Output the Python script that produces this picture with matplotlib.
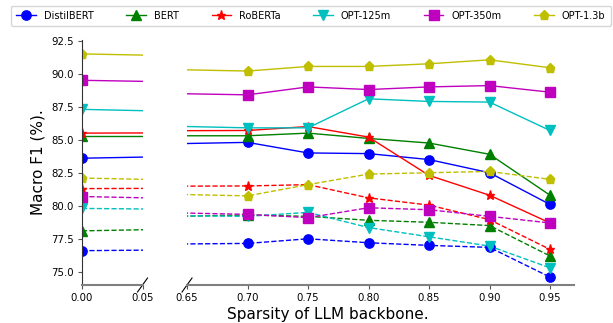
import numpy as np
import matplotlib
matplotlib.use("Agg")
import matplotlib.pyplot as plt

sparsity = [0.0, 0.70, 0.75, 0.80, 0.85, 0.90, 0.95]
models = ["DistilBERT", "BERT", "RoBERTa", "OPT-125m", "OPT-350m", "OPT-1.3b"]

# solid lines
distilbert_solid = [83.6, 84.8, 84.0, 83.95, 83.5, 82.5, 80.1]
bert_solid = [85.3, 85.3, 85.5, 85.1, 84.75, 83.9, 80.8]
roberta_solid = [85.5, 85.7, 86.0, 85.2, 82.3, 80.8, 78.7]
opt125_solid = [87.3, 85.9, 85.9, 88.1, 87.9, 87.85, 85.7]
opt350_solid = [89.5, 88.4, 89.0, 88.8, 89.0, 89.1, 88.6]
opt13_solid = [91.5, 90.2, 90.55, 90.55, 90.75, 91.05, 90.45]

# dashed lines
distilbert_dashed = [76.6, 77.15, 77.5, 77.2, 77.0, 76.85, 74.6]
bert_dashed = [78.1, 79.3, 79.2, 78.9, 78.75, 78.5, 76.2]
roberta_dashed = [81.3, 81.5, 81.6, 80.6, 80.05, 78.95, 76.7]
opt125_dashed = [79.8, 79.2, 79.5, 78.35, 77.65, 76.95, 75.3]
opt350_dashed = [80.7, 79.35, 79.1, 79.85, 79.7, 79.2, 78.7]
opt13_dashed = [82.1, 80.75, 81.6, 82.4, 82.5, 82.6, 82.0]

solid = [distilbert_solid, bert_solid, roberta_solid, opt125_solid, opt350_solid, opt13_solid]
dashed = [distilbert_dashed, bert_dashed, roberta_dashed, opt125_dashed, opt350_dashed, opt13_dashed]
colors = ["b", "g", "r", "c", "m", "y"]
markers = ["o", "^", "*", "v", "s", "p"]

fig = plt.figure(figsize=(6.13, 3.23), dpi=100)
ax1 = fig.add_axes([0.1338, 0.1176, 0.0987, 0.7585])
ax2 = fig.add_axes([0.3051, 0.1176, 0.6316, 0.7585])

for ax in (ax1, ax2):
    for i in range(len(models)):
        ax.plot(sparsity, solid[i], color=colors[i], marker=markers[i], ms=6.7,
                lw=1, ls="-", label=models[i])
    for i in range(len(models)):
        ax.plot(sparsity, dashed[i], color=colors[i], marker=markers[i], ms=6.7,
                lw=1, ls="--")
    ax.set_ylim(74, 92.55)
    ax.spines["top"].set_visible(False)
    ax.spines["right"].set_visible(False)
    ax.spines["bottom"].set_color("#808080")
    ax.spines["bottom"].set_linewidth(1.5)
    ax.tick_params(labelsize=7.3, length=3, pad=3, color="#555555")

ax1.set_xlim(0, 0.05)
ax1.set_xticks([0.0, 0.05])
ax1.set_xticklabels(["0.00", "0.05"])
ax1.set_yticks([75, 77.5, 80, 82.5, 85, 87.5, 90, 92.5])
ax1.set_yticklabels(["75.0", "77.5", "80.0", "82.5", "85.0", "87.5", "90.0", "92.5"])
ax1.spines["left"].set_color("#333333")

ax2.set_xlim(0.65, 0.97)
ax2.set_xticks([0.65, 0.70, 0.75, 0.80, 0.85, 0.90, 0.95])
ax2.set_xticklabels(["0.65", "0.70", "0.75", "0.80", "0.85", "0.90", "0.95"])
ax2.spines["left"].set_visible(False)
ax2.set_yticks([])

# break marks
dy = 7 / 245
dx1 = 5 / 60.5
dx2 = 5 / 387
ax1.plot([1 - dx1, 1 + dx1], [-dy, dy], transform=ax1.transAxes, color="k", lw=0.8, clip_on=False)
ax2.plot([-dx2, dx2], [-dy, dy], transform=ax2.transAxes, color="k", lw=0.8, clip_on=False)

ax1.set_ylabel("Macro F1 (%).", fontsize=11, labelpad=4)
fig.text(0.535, 0.012, "Sparsity of LLM backbone.", ha="center", fontsize=11)

handles, labels = ax1.get_legend_handles_labels()
fig.legend(handles, labels, loc="upper center", bbox_to_anchor=(0.507, 0.992), ncol=6,
           fontsize=7, handlelength=2, columnspacing=3.4, borderpad=0.55, borderaxespad=0.3)

fig.savefig("out.png", dpi=100)
